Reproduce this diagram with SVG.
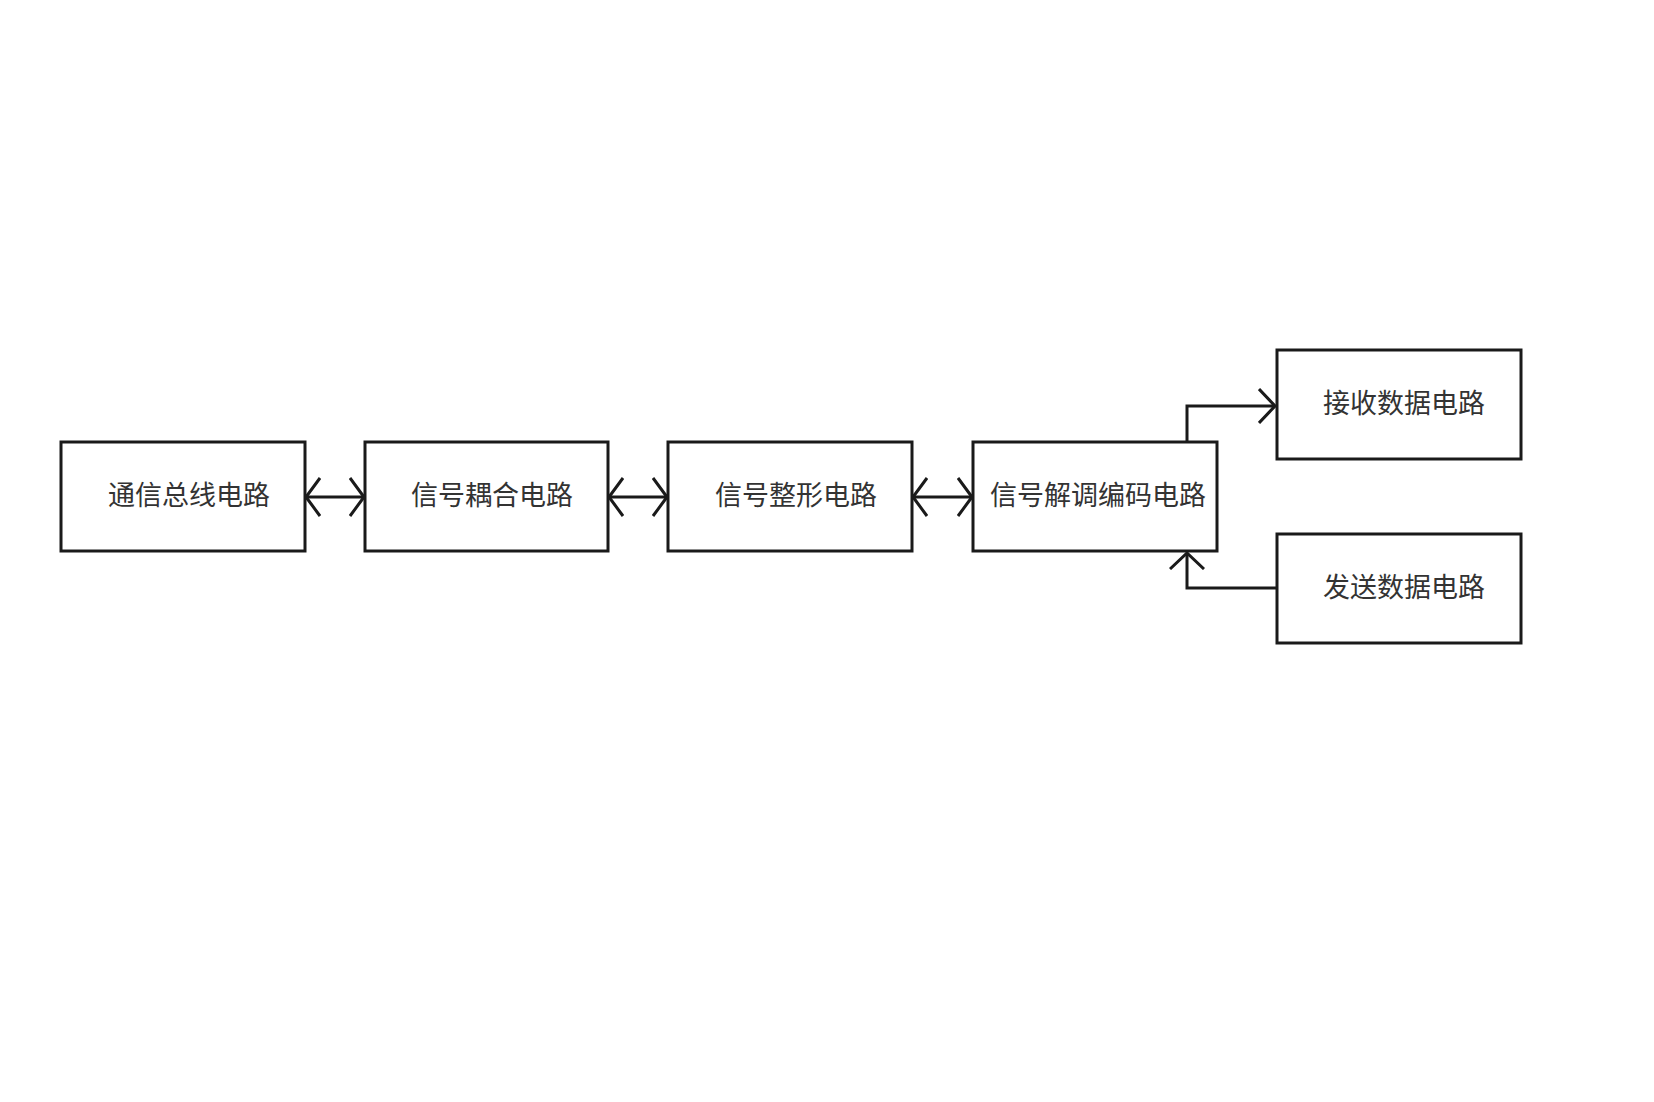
<svg xmlns="http://www.w3.org/2000/svg" width="1654" height="1102" viewBox="0 0 1654 1102">
<defs>
<style>
.box{fill:#fff;stroke:#1a1a1a;stroke-width:3}
.lbl{font-family:"Liberation Sans","Noto Sans CJK SC",sans-serif;font-size:27px;fill:#333;text-anchor:middle;dominant-baseline:central}
.ln{fill:none;stroke:#1a1a1a;stroke-width:3}
</style>
<marker id="ah" viewBox="0 0 16 40" refX="15" refY="20" markerWidth="16" markerHeight="40" markerUnits="userSpaceOnUse" orient="auto-start-reverse">
<path d="M1,1 L15,20 L1,39" fill="none" stroke="#1a1a1a" stroke-width="3"/>
</marker>
<marker id="ah2" viewBox="0 0 18 36" refX="17" refY="18" markerWidth="18" markerHeight="36" markerUnits="userSpaceOnUse" orient="auto-start-reverse">
<path d="M1,1 L17,18 L1,35" fill="none" stroke="#1a1a1a" stroke-width="3"/>
</marker>
</defs>
<rect width="1654" height="1102" fill="#fff"/>
<g id="connectors">
<line class="ln" x1="306" y1="497" x2="364" y2="497" marker-start="url(#ah)" marker-end="url(#ah)"/>
<line class="ln" x1="609" y1="497" x2="667" y2="497" marker-start="url(#ah)" marker-end="url(#ah)"/>
<line class="ln" x1="913" y1="497" x2="972" y2="497" marker-start="url(#ah)" marker-end="url(#ah)"/>
<polyline class="ln" points="1187,442 1187,406 1275,406" marker-end="url(#ah2)"/>
<polyline class="ln" points="1276,588 1187,588 1187,553" marker-end="url(#ah2)"/>
</g>
<g id="n1"><rect class="box" x="61" y="442" width="244" height="109"/><text class="lbl" x="189" y="496">通信总线电路</text></g>
<g id="n2"><rect class="box" x="365" y="442" width="243" height="109"/><text class="lbl" x="492" y="496">信号耦合电路</text></g>
<g id="n3"><rect class="box" x="668" y="442" width="244" height="109"/><text class="lbl" x="796" y="496">信号整形电路</text></g>
<g id="n4"><rect class="box" x="973" y="442" width="244" height="109"/><text class="lbl" x="1098" y="496">信号解调编码电路</text></g>
<g id="n5"><rect class="box" x="1277" y="350" width="244" height="109"/><text class="lbl" x="1404" y="404">接收数据电路</text></g>
<g id="n6"><rect class="box" x="1277" y="534" width="244" height="109"/><text class="lbl" x="1404" y="588">发送数据电路</text></g>
</svg>
